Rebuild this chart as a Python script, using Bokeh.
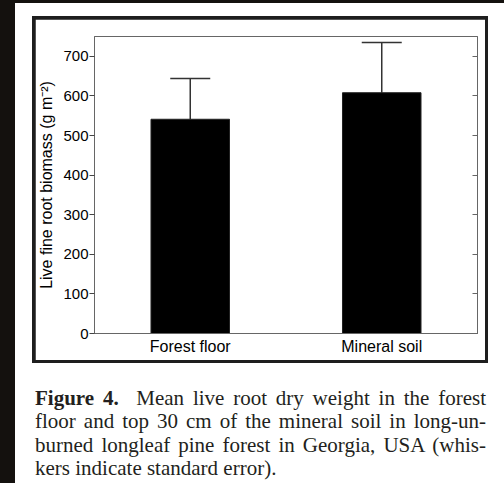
from bokeh.plotting import figure
from bokeh.models import (Range1d, FactorRange, LinearAxis, FixedTicker, Whisker, TeeHead,
                          ColumnDataSource, Div, Column, Row)
from bokeh.embed import file_html
from bokeh.resources import INLINE

categories = ["Forest floor", "Mineral soil"]
biomass = [541, 608]
upper_se = [644, 735]
y_ticks = [0, 100, 200, 300, 400, 500, 600, 700]
y_label = "Live fine root biomass (g m\u207b\u00b2)"
caption_bold = "Figure 4."
caption_lines = [
    "Mean live root dry weight in the forest",
    "floor and top 30 cm of the mineral soil in long-un-",
    "burned longleaf pine forest in Georgia, USA (whis-",
    "kers indicate standard error).",
]

DARK = "#14110e"
src = ColumnDataSource(dict(cat=categories, val=biomass, up=upper_se))

p = figure(width=450, height=341, x_range=FactorRange(*categories), y_range=Range1d(0, 750),
           output_backend="svg", toolbar_location=None, margin=(3, 3, 3, 3),
           min_border_left=59, min_border_right=8, min_border_top=17, min_border_bottom=27)
p.background_fill_color = "white"
p.border_fill_color = "white"
p.outline_line_color = "#666666"
p.outline_line_width = 1
p.grid.visible = False

p.vbar(x="cat", top="val", width=0.41, source=src, fill_color="black", line_color="#222222", line_width=1)
p.add_layout(Whisker(base="cat", upper="up", lower="val", source=src,
                     line_color="#333333", line_width=1.5,
                     upper_head=TeeHead(size=40, line_color="#333333", line_width=1.5),
                     lower_head=None))

ya = p.yaxis[0]
ya.ticker = FixedTicker(ticks=y_ticks)
ya.major_tick_out = 5
ya.major_tick_in = 0
ya.minor_tick_out = 0
ya.minor_tick_in = 0
ya.axis_line_color = "#666666"
ya.major_tick_line_color = "#444444"
ya.major_label_text_font = "Liberation Sans"
ya.major_label_text_font_size = "15px"
ya.major_label_text_color = "black"
ya.major_label_standoff = 1
ya.axis_label = y_label
ya.axis_label_text_font = "Liberation Sans"
ya.axis_label_text_font_size = "16px"
ya.axis_label_text_font_style = "normal"
ya.axis_label_text_color = "black"
ya.axis_label_standoff = 5

ra = LinearAxis(ticker=FixedTicker(ticks=y_ticks), major_tick_in=5, major_tick_out=0,
                minor_tick_in=0, minor_tick_out=0, axis_line_color="#666666",
                major_tick_line_color="#666666", major_label_text_color=None,
                major_label_text_font_size="1px", major_label_standoff=0)
p.add_layout(ra, "right")

xa = p.xaxis[0]
xa.major_tick_out = 0
xa.major_tick_in = 0
xa.axis_line_color = "#666666"
xa.major_label_text_font = "Liberation Sans"
xa.major_label_text_font_size = "16px"
xa.major_label_text_color = "black"
xa.major_label_standoff = 4

# caption (HTML text, justified lines)
line_style = "text-align:justify;text-align-last:justify;"
rows_html = [f'<div style="{line_style}"><b>{caption_bold}</b>&nbsp; {caption_lines[0]}</div>']
for t in caption_lines[1:-1]:
    rows_html.append(f'<div style="{line_style}">{t}</div>')
rows_html.append(f'<div style="text-align:left;">{caption_lines[-1]}</div>')
caption = Div(text=("<div style=\"font-family:'Liberation Serif';font-size:21px;line-height:23.4px;"
                    "color:#231f20;width:451px;\">" + "".join(rows_html) + "</div>"),
              width=451, height=96, margin=(24, 0, 0, 20))

box = Column(children=[p], width=456, height=347, margin=(13, 0, 0, 17),
             styles={"background-color": "#1e1e1e"})
topbar = Div(text="", width=489, height=3, margin=(0, 0, 0, 0), styles={"background-color": DARK})
page = Column(children=[topbar, box, caption], width=489, height=483, margin=(0, 0, 0, 0),
              styles={"background-color": "white"})
strip = Div(text="", width=15, height=483, margin=(0, 0, 0, 0), styles={"background-color": DARK})
root = Row(children=[strip, page], width=504, height=483, margin=(0, 0, 0, 0))

open("out.html", "w").write(file_html(root, INLINE))
